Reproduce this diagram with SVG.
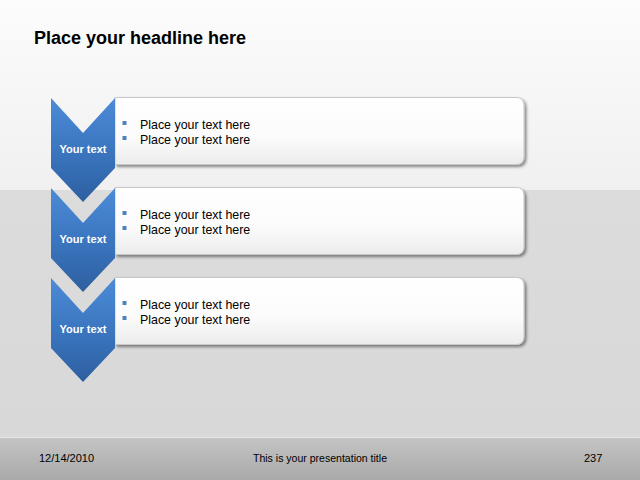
<svg xmlns="http://www.w3.org/2000/svg" width="640" height="480" viewBox="0 0 640 480">
<defs>
<linearGradient id="bgTop" x1="0" y1="0" x2="0" y2="1">
<stop offset="0" stop-color="#fcfcfc"/><stop offset="1" stop-color="#f0f0f0"/>
</linearGradient>
<linearGradient id="bgMid" x1="0" y1="0" x2="0" y2="1">
<stop offset="0" stop-color="#dcdcdc"/><stop offset="1" stop-color="#d8d8d8"/>
</linearGradient>
<linearGradient id="foot" x1="0" y1="0" x2="0" y2="1">
<stop offset="0" stop-color="#c4c4c4"/><stop offset="1" stop-color="#a9a9a9"/>
</linearGradient>
<linearGradient id="chev" x1="0" y1="0" x2="0" y2="1">
<stop offset="0" stop-color="#4d8bd6"/><stop offset="0.5" stop-color="#3b76c0"/><stop offset="1" stop-color="#2d5f9f"/>
</linearGradient>
<linearGradient id="box" x1="0" y1="0" x2="0" y2="1">
<stop offset="0" stop-color="#ffffff"/><stop offset="0.6" stop-color="#fbfbfb"/><stop offset="1" stop-color="#ececec"/>
</linearGradient>
<filter id="sh" x="-5%" y="-10%" width="115%" height="130%">
<feGaussianBlur in="SourceAlpha" stdDeviation="1.5"/>
<feOffset dx="2" dy="2"/>
<feComponentTransfer><feFuncA type="linear" slope="0.45"/></feComponentTransfer>
<feMerge><feMergeNode/><feMergeNode in="SourceGraphic"/></feMerge>
</filter>
<path id="chevShape" d="M0,0 L32,35 L64,0 L64,70 L32,104 L0,70 Z"/>
</defs>
<style>
.boxr{fill:url(#box);stroke:#c8c8c8;stroke-width:1}
.chv{fill:url(#chev)}
.yt{font-family:"Liberation Sans",Arial,sans-serif;font-size:11px;font-weight:bold;fill:#ffffff;text-anchor:middle}
.bt{font-family:"Liberation Sans",Arial,sans-serif;font-size:12.4px;fill:#000000}
.bl{fill:#4f81bd}
.ft{font-family:"Liberation Sans",Arial,sans-serif;font-size:11px;fill:#000000}
</style>
<rect x="0" y="0" width="640" height="190" fill="url(#bgTop)"/>
<rect x="0" y="190" width="640" height="248" fill="url(#bgMid)"/>
<rect x="0" y="438" width="640" height="42" fill="url(#foot)"/>
<line x1="0" y1="437.5" x2="640" y2="437.5" stroke="#e6e6e6" stroke-width="1"/>
<text x="34" y="44" font-family="Liberation Sans,Arial,sans-serif" font-size="18" font-weight="bold" fill="#000">Place your headline here</text>

<g id="step1">
<path class="boxr" filter="url(#sh)" d="M115,97.5 H516 Q524,97.5 524,105.5 V156.5 Q524,164.5 516,164.5 H115 Z"/>
<use href="#chevShape" class="chv" x="51" y="98"/>
<text class="yt" x="83" y="153">Your text</text>
<rect class="bl" x="122.5" y="121" width="4" height="4"/>
<text class="bt" x="140" y="129">Place your text here</text>
<rect class="bl" x="122.5" y="136" width="4" height="4"/>
<text class="bt" x="140" y="144">Place your text here</text>
</g>
<g id="step2">
<path class="boxr" filter="url(#sh)" d="M115,187.5 H516 Q524,187.5 524,195.5 V246.5 Q524,254.5 516,254.5 H115 Z"/>
<use href="#chevShape" class="chv" x="51" y="188"/>
<text class="yt" x="83" y="243">Your text</text>
<rect class="bl" x="122.5" y="211" width="4" height="4"/>
<text class="bt" x="140" y="219">Place your text here</text>
<rect class="bl" x="122.5" y="226" width="4" height="4"/>
<text class="bt" x="140" y="234">Place your text here</text>
</g>
<g id="step3">
<path class="boxr" filter="url(#sh)" d="M115,277.5 H516 Q524,277.5 524,285.5 V336.5 Q524,344.5 516,344.5 H115 Z"/>
<use href="#chevShape" class="chv" x="51" y="278"/>
<text class="yt" x="83" y="333">Your text</text>
<rect class="bl" x="122.5" y="301" width="4" height="4"/>
<text class="bt" x="140" y="309">Place your text here</text>
<rect class="bl" x="122.5" y="316" width="4" height="4"/>
<text class="bt" x="140" y="324">Place your text here</text>
</g>
<g id="connectors"></g>

<text class="ft" x="39" y="462">12/14/2010</text>
<text class="ft" x="320" y="462" text-anchor="middle" textLength="134" lengthAdjust="spacingAndGlyphs">This is your presentation title</text>
<text class="ft" x="584" y="462">237</text>
</svg>
